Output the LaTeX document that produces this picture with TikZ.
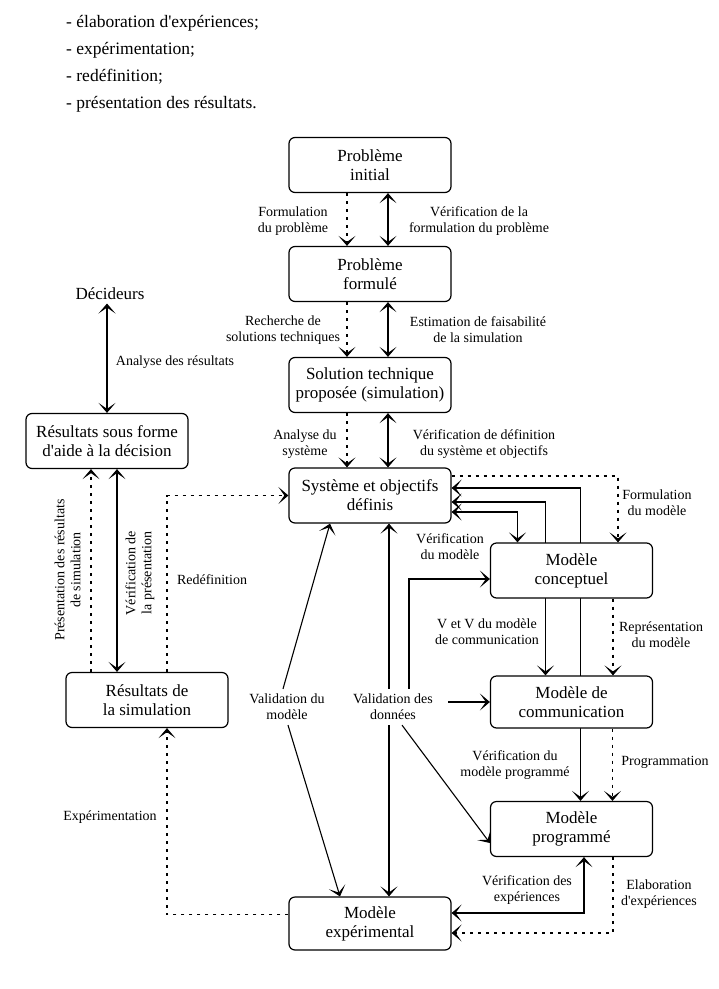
\documentclass[tikz,border=0pt]{standalone}
\usepackage{fontspec}
\setmainfont{Liberation Serif}[Ligatures=TeXOff]
\usetikzlibrary{arrows.meta}
\pgfdeclarelayer{fond}
\pgfsetlayers{fond,main}

\begin{document}
\begin{tikzpicture}[x=1pt, y=-1pt, >={Stealth[length=10pt,width=17pt,inset=6pt]},
  boite/.style={draw, line width=1.2pt, rounded corners=6pt, fill=white, minimum width=162pt,
    minimum height=55pt, align=center, inner sep=2pt, font=\fontsize{17}{19}\selectfont},
  etiq/.style={align=center, inner sep=3pt, font=\fontsize{14}{16}\selectfont},
  trait/.style={line width=1.1pt},
  pointille/.style={line width=1.1pt, dash pattern=on 3pt off 5pt}]

  \useasboundingbox (0,0) rectangle (719,989);

  % 1. Liste en haut de page
  \node[anchor=west, align=left, inner sep=0pt, font=\fontsize{17.5}{27}\selectfont] (intro) at (66,63.5)
    {- élaboration d'expériences;\\- expérimentation;\\- redéfinition;\\- présentation des résultats.};

  % 2. Les boites du processus
  \node[boite] (pinit) at (370,165) {Problème\\initial};
  \node[boite] (pform) at (370,274) {Problème\\formulé};
  \node[boite] (soltech) at (370,385) {Solution technique\\proposée (simulation)};
  \node[boite] (sysobj) at (370,495.5) {Système et objectifs\\définis};
  \node[boite] (mconc) at (571.5,570.5) {Modèle\\conceptuel};
  \node[boite, minimum height=52pt] (mcomm) at (571.5,702) {Modèle de\\communication};
  \node[boite] (mprog) at (571.5,829) {Modèle\\programmé};
  \node[boite, minimum height=53pt] (mexp) at (370,923.5) {Modèle\\expérimental};
  \node[boite] (resdec) at (107,441) {Résultats sous forme\\d'aide à la décision};
  \node[boite] (ressim) at (147,700) {Résultats de\\la simulation};
  \node[font=\fontsize{17}{19}\selectfont] (decid) at (110,294) {Décideurs};

  % 3. Etiquettes des liens
  \node[etiq] (lfprob) at (293,221) {Formulation\\du problème};
  \node[etiq] (lvprob) at (479,221) {Vérification de la\\formulation du problème};
  \node[etiq] (lrech) at (283,330) {Recherche de\\solutions techniques};
  \node[etiq] (lestim) at (478,330) {Estimation de faisabilité\\de la simulation};
  \node[etiq] (lanas) at (305,444) {Analyse du\\système};
  \node[etiq] (lvdef) at (484,444) {Vérification de définition\\du système et objectifs};
  \node[etiq] (lvmodc) at (450,547) {Vérification\\du modèle};
  \node[etiq] (lfmod) at (657,503) {Formulation\\du modèle};
  \node[etiq] (lvvcom) at (487,632) {V et V du modèle\\de communication};
  \node[etiq] (lrepr) at (661,635) {Représentation\\du modèle};
  \node[etiq] (lprog) at (665,762) {Programmation};
  \node[etiq] (lvprog) at (515,765) {Vérification du\\modèle programmé};
  \node[etiq] (lvexp) at (527,890) {Vérification des\\expériences};
  \node[etiq] (lelab) at (659,894) {Elaboration\\d'expériences};
  \node[etiq] (lanres) at (175,362) {Analyse des résultats};
  \node[etiq, rotate=90] (lpres) at (67.5,570) {Présentation des résultats\\de simulation};
  \node[etiq, rotate=90] (lvpres) at (140,573) {Vérification de\\la présentation};
  \node[etiq] (lredef) at (212,580) {Redéfinition};
  \node[etiq] (lexper) at (110,817) {Expérimentation};
  \node[etiq, inner sep=5pt] (vmod) at (287,707) {Validation du\\modèle};
  \node[etiq, inner sep=5pt] (vdon) at (393,707) {Validation des\\données};

  % 4. Les liens, sous les boites
  \begin{pgfonlayer}{fond}
    % colonne centrale
    \foreach \haut/\bas in {pinit/pform, pform/soltech, soltech/sysobj} {
      \draw[pointille,->] ([xshift=-23pt]\haut.south) -- ([xshift=-23pt]\bas.north);
      \draw[trait,<->] ([xshift=18pt]\haut.south) -- ([xshift=18pt]\bas.north);
    }
    % partie gauche
    \draw[trait,<->] (decid.south -| resdec.north) -- (resdec.north);
    \draw[pointille,->] ([xshift=-56pt]ressim.north) -- ([xshift=-56pt]ressim.north |- resdec.south);
    \draw[trait,<->] ([xshift=-30pt]ressim.north) -- ([xshift=-30pt]ressim.north |- resdec.south);
    \draw[pointille,->] ([xshift=20pt]ressim.north) |- (sysobj.west);
    \draw[pointille,->] ([yshift=9pt]mexp.west) -| ([xshift=20pt]ressim.south);
    % validations
    \draw[trait,->] ([xshift=-4pt]vmod.north) -- ([xshift=-40pt]sysobj.south);
    \draw[trait,->] ([xshift=1pt]vmod.south) -- ([xshift=-30pt]mexp.north);
    \draw[trait,->] ([xshift=19pt]sysobj.south |- vdon.north) -- ([xshift=19pt]sysobj.south);
    \draw[trait,->] ([xshift=19pt]mexp.north |- vdon.south) -- ([xshift=19pt]mexp.north);
    \draw[trait,->] ([xshift=16pt]vdon.north) |- ([yshift=-8.5pt]mconc.west);
    \draw[trait,->] ([xshift=10pt]vdon.east |- mcomm.west) -- (mcomm.west);
    \draw[trait,->] ([xshift=9pt]vdon.south) -- ([yshift=-14pt]mprog.west);
    % partie droite
    \draw[pointille,->] ([yshift=19.5pt]sysobj.east) -| ([xshift=46.5pt]mconc.north);
    \draw[trait,<->] ([yshift=7.5pt]sysobj.east) -| ([xshift=9pt]mprog.north);
    \draw[trait,<->] ([yshift=-6.5pt]sysobj.east) -| ([xshift=-26pt]mcomm.north);
    \draw[trait,<->] ([yshift=-16.5pt]sysobj.east) -| ([xshift=-54pt]mconc.north);
    \draw[pointille,->] ([xshift=41.5pt]mconc.south) -- ([xshift=41.5pt]mcomm.north);
    \draw[pointille,->] ([xshift=41pt]mcomm.south) -- ([xshift=41pt]mprog.north);
    \draw[trait,<->] ([xshift=12.5pt]mprog.south) |- ([yshift=10.5pt]mexp.east);
    \draw[pointille,->] ([xshift=41.5pt]mprog.south) |- ([yshift=-9.5pt]mexp.east);
  \end{pgfonlayer}

\end{tikzpicture}
\end{document}
